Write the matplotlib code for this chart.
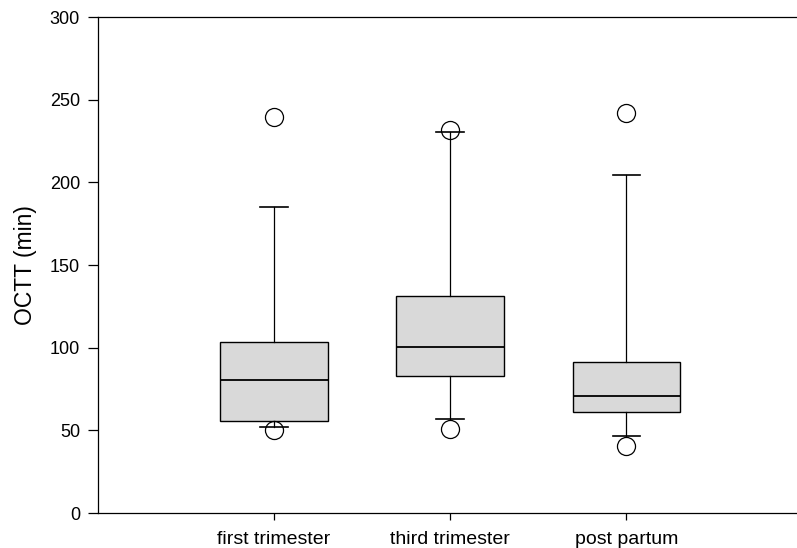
import matplotlib
matplotlib.use("Agg")
import matplotlib.pyplot as plt

# values (minutes)
groups = ['first trimester', 'third trimester', 'post partum']
q1 = [55.8, 82.9, 61.1]
medians = [80.5, 100.2, 70.8]
q3 = [103.6, 131.3, 91.5]
whisker_low = [51.8, 56.7, 46.6]
whisker_high = [185.3, 230.3, 204.3]
outliers = [[50.2, 239.7], [50.8, 231.7], [40.7, 241.8]]

plt.rcParams['font.family'] = ['Liberation Sans', 'DejaVu Sans']

stats = []
for i in range(len(groups)):
    stats.append({'label': groups[i], 'q1': q1[i], 'med': medians[i], 'q3': q3[i],
                  'whislo': whisker_low[i], 'whishi': whisker_high[i], 'fliers': outliers[i]})

fig = plt.figure(figsize=(7.97, 5.48), dpi=100)
ax = fig.add_axes([98 / 797, 1 - 513 / 548, 1 - 98 / 797, (513 - 17) / 548])

ax.bxp(stats, positions=[1, 2, 3], widths=0.61, capwidths=0.155, patch_artist=True,
       boxprops=dict(facecolor='#d9d9d9', edgecolor='black', linewidth=1.0),
       medianprops=dict(color='black', linewidth=1.3),
       whiskerprops=dict(color='black', linewidth=0.9),
       capprops=dict(color='black', linewidth=1.2),
       flierprops=dict(marker='o', markersize=13, markerfacecolor='none',
                       markeredgecolor='black', markeredgewidth=0.9))

ax.set_xlim(0, 3.97)
ax.set_ylim(0, 300)
ax.set_yticks([0, 50, 100, 150, 200, 250, 300])
ax.set_ylabel('OCTT (min)', fontsize=16.5, labelpad=9)
ax.spines['right'].set_visible(False)
for s in ['left', 'top', 'bottom']:
    ax.spines[s].set_linewidth(0.9)
ax.tick_params(axis='y', labelsize=13, length=7, width=0.9, direction='out', pad=6)
ax.tick_params(axis='x', labelsize=14, length=5, width=0.9, direction='out', pad=8)

fig.savefig('out.png', dpi=100)
